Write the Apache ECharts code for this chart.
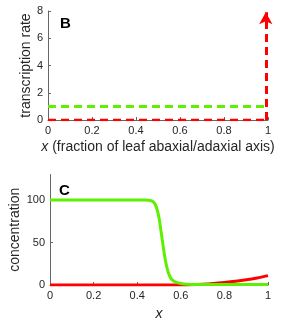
<!DOCTYPE html>
<html><head><meta charset="utf-8">
<script src="https://cdn.jsdelivr.net/npm/echarts@6/dist/echarts.min.js"></script>
<style>html,body{margin:0;padding:0;background:#fff}#c{width:281px;height:324px}</style>
</head><body><div id="c"></div>
<script>
// Panel B: transcription rate
const xTicksB = [0, 0.2, 0.4, 0.6, 0.8, 1];
const greenRateB = [[0, 1], [1, 1]];
const redRateB = [[0, 0], [0.99, 0]];
const redArrowX = 0.99;
const redArrowTop = 7.9;
// Panel C: concentration
const greenConcX = [0, 0.1, 0.2, 0.3, 0.4, 0.44, 0.46, 0.47, 0.48, 0.49, 0.50, 0.51, 0.52, 0.53, 0.54, 0.55, 0.56, 0.58, 0.60, 0.63, 0.67, 0.8, 1];
const greenConcY = [100, 100, 100, 100, 100, 100, 99.5, 98.5, 96, 90, 79, 62, 44, 28, 17, 10, 6, 3, 1.8, 1, 0.6, 0.5, 0.5];
const redConcX = [0, 0.2, 0.4, 0.6, 0.65, 0.7, 0.75, 0.8, 0.85, 0.9, 0.95, 1];
const redConcY = [0, 0, 0, 0, 0.3, 0.9, 1.8, 3, 4.4, 6.1, 8.3, 11];

const green = '#5df000';
const red = '#ff0000';
const axisCol = '#666666';
const txtCol = '#262626';
const font = 'Liberation Sans';

function xAx(gridIndex, name, gap) {
  return {
    gridIndex, type: 'value', min: 0, max: 1, interval: 0.2,
    axisLine: {show: true, lineStyle: {color: axisCol, width: 1}},
    axisTick: {show: true, inside: true, length: 3, lineStyle: {color: axisCol}},
    splitLine: {show: false},
    axisLabel: {color: txtCol, fontFamily: font, fontSize: 11, margin: 5,
      formatter: v => String(Math.round(v * 10) / 10)},
    name, nameLocation: 'middle', nameGap: gap, nameMoveOverlap: false,
    nameTextStyle: {color: txtCol, fontFamily: font, fontSize: 14,
      rich: {i: {fontStyle: 'italic', fontFamily: font, fontSize: 14, color: txtCol}}}
  };
}
function yAx(gridIndex, max, interval, name, gap) {
  return {
    gridIndex, type: 'value', min: 0, max, interval,
    axisLine: {show: true, lineStyle: {color: axisCol, width: 1}},
    axisTick: {show: true, inside: true, length: 3, lineStyle: {color: axisCol}},
    splitLine: {show: false},
    axisLabel: {color: txtCol, fontFamily: font, fontSize: 11, margin: 5,
      showMaxLabel: max % interval === 0},
    name, nameLocation: 'middle', nameGap: gap, nameMoveOverlap: false,
    nameTextStyle: {color: txtCol, fontFamily: font, fontSize: 14}
  };
}

const chart = echarts.init(document.getElementById('c'), null, {renderer: 'canvas'});
chart.setOption({
  animation: false,
  grid: [
    {left: 48, width: 220, top: 11, height: 109},
    {left: 48, width: 220, top: 174.5, height: 110.5}
  ],
  xAxis: [
    xAx(0, '{i|x} (fraction of leaf abaxial/adaxial axis)', 20),
    xAx(1, '{i|x}', 22)
  ],
  yAxis: [
    yAx(0, 8, 2, 'transcription rate', 15),
    yAx(1, 130, 50, 'concentration', 28)
  ],
  graphic: [
    {type: 'text', left: 60, top: 16, style: {text: 'B', font: 'bold 15px Liberation Sans', fill: '#000'}},
    {type: 'text', left: 59, top: 183, style: {text: 'C', font: 'bold 15px Liberation Sans', fill: '#000'}}
  ],
  series: [
    {type: 'line', xAxisIndex: 0, yAxisIndex: 0, data: greenRateB, symbol: 'none',
      lineStyle: {color: green, width: 3, type: [8, 5]}},
    {type: 'line', xAxisIndex: 0, yAxisIndex: 0, data: redRateB, symbol: 'none',
      lineStyle: {color: red, width: 2.5, type: [8, 5]},
      markLine: {silent: true, symbol: ['none', 'arrow'], symbolSize: [10, 12],
        label: {show: false},
        lineStyle: {color: red, width: 3, type: [8, 5]},
        data: [[{coord: [redArrowX, 0]}, {coord: [redArrowX, redArrowTop]}]]}},
    {type: 'line', xAxisIndex: 1, yAxisIndex: 1, data: greenConcX.map((x, i) => [x, greenConcY[i]]),
      symbol: 'none', smooth: 0.3, lineStyle: {color: green, width: 3}, z: 3},
    {type: 'line', xAxisIndex: 1, yAxisIndex: 1, data: redConcX.map((x, i) => [x, redConcY[i]]),
      symbol: 'none', smooth: 0.3, lineStyle: {color: red, width: 3}, z: 2}
  ]
});
</script></body></html>
